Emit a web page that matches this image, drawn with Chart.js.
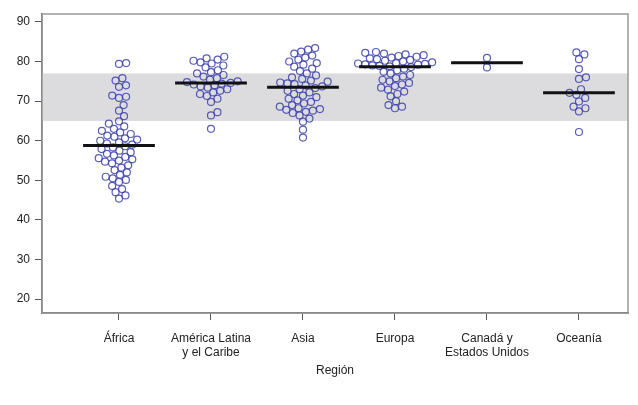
<!DOCTYPE html>
<html>
<head>
<meta charset="utf-8">
<script src="https://cdn.jsdelivr.net/npm/chart.js@4"></script>
<style>
  html, body { margin: 0; background: #fff; }
  #wrap { width: 638px; height: 405px; }
</style>
</head>
<body>
<div id="wrap"><canvas id="chart"></canvas></div>
<script>
// categories (multi-line labels)
const regions = [["África"], ["América Latina", "y el Caribe"], ["Asia"], ["Europa"], ["Canadá y", "Estados Unidos"], ["Oceanía"]];

// life expectancy per country
const africa = [79.6, 79.4, 75.8, 75.2, 74.0, 73.6, 71.4, 71.1, 70.8, 69.0, 67.6, 66.2, 64.9, 64.3, 63.6, 63.0, 62.5, 62.1, 61.7, 61.3, 61.0, 60.6, 60.3, 60.0, 59.6, 59.3, 59.0,
  58.6, 58.3, 57.9, 57.5, 57.1, 56.7, 56.3, 55.9, 55.6, 55.3, 55.0, 54.7, 54.3, 53.8, 53.2, 52.6, 52.0, 51.4, 50.9, 50.5, 50.1, 49.6, 48.6, 47.8, 47.0, 46.2, 45.4];
const latinAmerica = [81.2, 80.8, 80.5, 80.2, 79.8, 79.5, 79.0, 78.5, 77.8, 77.3, 77.0, 76.6, 76.2, 75.8, 75.4, 75.0, 74.8, 74.6, 74.4, 74.2, 74.0, 73.7, 73.4, 73.0, 72.6, 72.2, 71.8, 71.3, 70.6, 69.8, 67.2, 66.4, 63.0];
const asia = [83.4, 83.0, 82.5, 82.0, 81.5, 81.0, 80.5, 80.0, 79.6, 79.2, 78.7, 78.2, 77.6, 77.0, 76.5, 76.0, 75.6, 75.2, 74.9, 74.7, 74.5, 74.3, 74.0, 73.7,
  73.3, 73.0, 72.6, 72.2, 71.8, 71.4, 71.0, 70.6, 70.2, 69.8, 69.4, 69.0, 68.6, 68.2, 68.0, 67.8, 67.6, 67.3, 67.0, 66.4, 65.6, 64.8, 62.8, 60.8];
const europe = [82.4, 82.2, 82.0, 81.8, 81.6, 81.4, 81.2, 81.0, 80.8, 80.6, 80.4, 80.2, 80.0, 79.8, 79.6, 79.5, 79.4, 79.3, 79.2, 79.0, 78.9, 78.8,
  78.6, 78.2, 77.8, 77.4, 77.0, 76.6, 76.2, 75.8, 75.4, 75.0, 74.6, 74.2, 73.8, 73.4, 72.9, 72.4, 71.8, 71.2, 70.0, 69.0, 68.6, 68.2];
const northAmerica = [80.9, 78.5];
const oceania = [82.3, 81.8, 80.6, 78.1, 76.0, 75.6, 73.0, 72.1, 71.6, 70.8, 69.9, 68.6, 68.2, 67.4, 62.2];

const medians = [58.8, 74.6, 73.5, 78.7, 79.7, 72.1];
const band = [65, 77];          // grey reference band
const yTicks = [20, 30, 40, 50, 60, 70, 80, 90];

const groups = [africa, latinAmerica, asia, europe, northAmerica, oceania];

// beeswarm layout in pixel units (approx px per unit on each axis)
const PX_PER_Y = 3.96;
const PX_PER_CAT = 92;
const DOT = 7.2;

function swarm(values) {
  const order = values.map((v, i) => i).sort((a, b) => values[a] - values[b]);
  const placed = [];
  const xs = new Array(values.length);
  for (const i of order) {
    const y = values[i] * PX_PER_Y;
    const cands = [0];
    for (const p of placed) {
      const dy = Math.abs(p.y - y);
      if (dy < DOT) {
        const dx = Math.sqrt(DOT * DOT - dy * dy);
        cands.push(p.x + dx, p.x - dx);
      }
    }
    cands.sort((a, b) => Math.abs(a) - Math.abs(b));
    let x = 0;
    for (const c of cands) {
      if (placed.every(p => (p.x - c) ** 2 + (p.y - y) ** 2 >= DOT * DOT - 1e-6)) { x = c; break; }
    }
    placed.push({ x, y });
    xs[i] = x;
  }
  return xs;
}

const datasets = [];

medians.forEach((m, i) => {
  datasets.push({
    type: "line",
    data: [{ x: i + 1 - 0.39, y: m }, { x: i + 1 + 0.39, y: m }],
    borderColor: "#111",
    borderWidth: 3,
    pointRadius: 0,
    order: 0
  });
});

groups.forEach((vals, i) => {
  const xs = swarm(vals);
  datasets.push({
    type: "scatter",
    data: vals.map((v, k) => ({ x: i + 1 + xs[k] / PX_PER_CAT, y: v })),
    pointRadius: 3.5,
    pointBorderWidth: 1.2,
    pointBorderColor: "rgba(60,65,170,0.85)",
    pointBackgroundColor: "rgba(0,0,0,0)",
    order: 1
  });
});

const bandPlugin = {
  id: "band",
  beforeDatasetsDraw(chart) {
    const { ctx, chartArea: a, scales: { y } } = chart;
    const top = y.getPixelForValue(band[1]);
    const bottom = y.getPixelForValue(band[0]);
    ctx.save();
    ctx.fillStyle = "#dcdcde";
    ctx.fillRect(a.left, top, a.right - a.left, bottom - top);
    ctx.restore();
  },
  afterDatasetsDraw(chart) {
    const { ctx, chartArea: a } = chart;
    ctx.save();
    ctx.strokeStyle = "#999";
    ctx.lineWidth = 1.5;
    ctx.strokeRect(a.left, a.top, a.right - a.left, a.bottom - a.top);
    ctx.restore();
  }
};

Chart.defaults.font.family = "'Liberation Sans', Arial, sans-serif";
Chart.defaults.color = "#222";

new Chart(document.getElementById("chart"), {
  type: "scatter",
  data: { datasets },
  plugins: [bandPlugin],
  options: {
    responsive: true,
    maintainAspectRatio: false,
    animation: false,
    layout: { padding: { top: 14, right: 10, left: 0, bottom: 0 } },
    plugins: { legend: { display: false }, tooltip: { enabled: false } },
    scales: {
      x: {
        type: "linear",
        min: 0.163,
        max: 6.533,
        afterBuildTicks: s => { s.ticks = regions.map((r, i) => ({ value: i + 1 })); },
        afterFit: s => { s.height = 92; },
        ticks: {
          callback: v => regions[v - 1],
          font: { size: 12 },
          padding: 11,
          maxRotation: 0
        },
        grid: { drawOnChartArea: false, drawTicks: true, tickLength: 7, tickColor: "#555" },
        border: { display: true, color: "#555", width: 1.5 },
        title: { display: true, text: "Región", font: { size: 12 }, padding: { top: 4, bottom: 27 } }
      },
      y: {
        type: "linear",
        min: 16.5,
        max: 92,
        afterBuildTicks: s => { s.ticks = yTicks.map(v => ({ value: v })); },
        afterFit: s => { s.width = 42; },
        ticks: { font: { size: 12 }, padding: 5 },
        grid: { drawOnChartArea: false, drawTicks: true, tickLength: 7, tickColor: "#555" },
        border: { display: true, color: "#555", width: 1.5 }
      }
    }
  }
});
</script>
</body>
</html>
